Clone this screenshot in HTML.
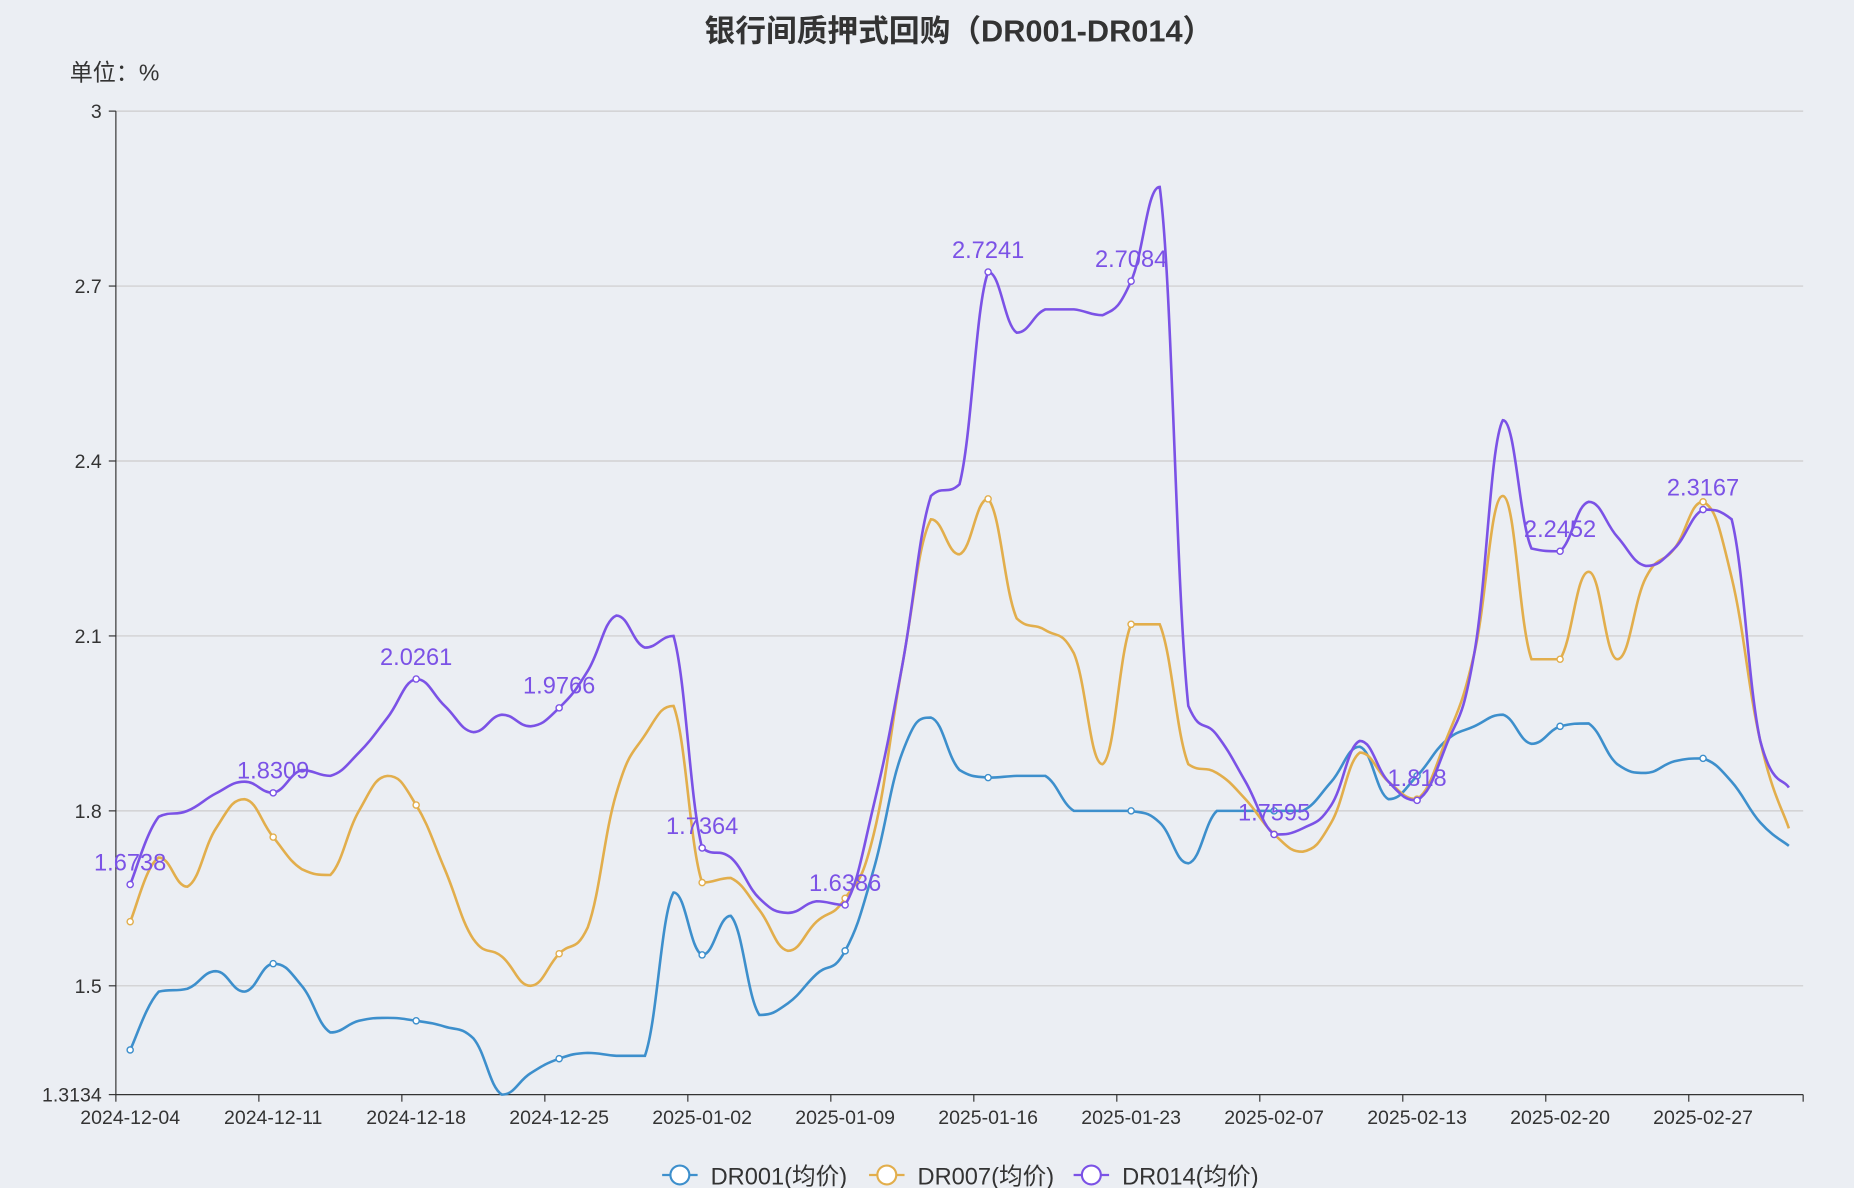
<!DOCTYPE html>
<html><head><meta charset="utf-8"><style>
html,body{margin:0;padding:0;background:#ebeef3;}
svg{display:block;font-family:"Liberation Sans","Noto Sans CJK SC",sans-serif;}
</style></head><body>
<svg id="chart" width="1854" height="1188" viewBox="0 0 1568 1005" preserveAspectRatio="none" xmlns="http://www.w3.org/2000/svg">
<rect x="0" y="0" width="1568" height="1005" fill="#ebeef3"/>
<text x="811" y="35" text-anchor="middle" font-size="26" font-weight="bold" fill="#333">银行间质押式回购（DR001-DR014）</text>
<text x="59" y="68" font-size="19.5" fill="#333">单位：%</text>
<g id="grid"></g>
<g id="axes"></g>
<g id="series"></g>
<g id="legend"></g>
</svg>
<script>
const dates=["2024-12-04","2024-12-05","2024-12-06","2024-12-09","2024-12-10","2024-12-11","2024-12-12","2024-12-13","2024-12-16","2024-12-17","2024-12-18","2024-12-19","2024-12-20","2024-12-23","2024-12-24","2024-12-25","2024-12-26","2024-12-27","2024-12-30","2024-12-31","2025-01-02","2025-01-03","2025-01-06","2025-01-07","2025-01-08","2025-01-09","2025-01-10","2025-01-13","2025-01-14","2025-01-15","2025-01-16","2025-01-17","2025-01-20","2025-01-21","2025-01-22","2025-01-23","2025-01-24","2025-01-27","2025-02-05","2025-02-06","2025-02-07","2025-02-08","2025-02-10","2025-02-11","2025-02-12","2025-02-13","2025-02-14","2025-02-17","2025-02-18","2025-02-19","2025-02-20","2025-02-21","2025-02-24","2025-02-25","2025-02-26","2025-02-27","2025-02-28","2025-03-03","2025-03-04"];
const dr001=[1.39,1.49,1.495,1.525,1.49,1.538,1.50,1.42,1.44,1.445,1.44,1.43,1.41,1.3134,1.35,1.375,1.385,1.38,1.38,1.66,1.553,1.62,1.45,1.47,1.52,1.56,1.70,1.90,1.96,1.87,1.857,1.86,1.86,1.80,1.80,1.80,1.78,1.71,1.80,1.80,1.80,1.80,1.85,1.91,1.82,1.86,1.92,1.945,1.965,1.915,1.945,1.95,1.88,1.865,1.885,1.89,1.85,1.78,1.74];
const dr007=[1.61,1.72,1.67,1.77,1.82,1.755,1.70,1.69,1.80,1.86,1.81,1.70,1.58,1.55,1.50,1.555,1.60,1.83,1.93,1.98,1.677,1.685,1.63,1.56,1.61,1.65,1.76,2.05,2.30,2.24,2.335,2.13,2.11,2.07,1.88,2.12,2.12,1.88,1.865,1.82,1.76,1.73,1.78,1.90,1.85,1.82,1.92,2.07,2.34,2.06,2.06,2.21,2.06,2.20,2.25,2.33,2.20,1.92,1.77];
const dr014=[1.6738,1.79,1.80,1.83,1.85,1.8309,1.87,1.86,1.90,1.96,2.0261,1.98,1.935,1.965,1.945,1.9766,2.04,2.135,2.08,2.10,1.7364,1.72,1.65,1.625,1.645,1.6386,1.81,2.05,2.34,2.36,2.7241,2.62,2.66,2.66,2.65,2.7084,2.87,1.98,1.93,1.85,1.7595,1.77,1.81,1.92,1.85,1.818,1.91,2.07,2.47,2.25,2.2452,2.33,2.27,2.22,2.25,2.3167,2.30,1.92,1.84];
const yTicks=[1.3134,1.5,1.8,2.1,2.4,2.7,3];
const yTickLabels=["1.3134","1.5","1.8","2.1","2.4","2.7","3"];
const NS="http://www.w3.org/2000/svg";
const X0=98,X1=1525,YT=94,YB=926,YMIN=1.3134,YMAX=3;
const step=(X1-X0)/dates.length;
function xs(i){return X0+step*(i+0.5);}
function ys(v){return YB-(v-YMIN)/(YMAX-YMIN)*(YB-YT);}
function mk(tag,attrs,parent){const e=document.createElementNS(NS,tag);for(const k in attrs)e.setAttribute(k,attrs[k]);parent.appendChild(e);return e;}
const grid=document.getElementById('grid'),axes=document.getElementById('axes'),ser=document.getElementById('series'),leg=document.getElementById('legend');
yTicks.forEach((t,i)=>{
  if(i>0){const l=mk('line',{x1:X0,x2:X1,y1:ys(t),y2:ys(t),stroke:'#ccc','stroke-width':1},grid);
  
  }
  const tk=mk('line',{x1:X0-6,x2:X0,y1:ys(t),y2:ys(t),stroke:'#333'},axes);
  
  
  const tx=mk('text',{x:X0-12,y:ys(t)+6,'text-anchor':'end','font-size':16.5,fill:'#333'},axes);
  tx.textContent=yTickLabels[i];
  
  
});
const ya=mk('line',{x1:X0,x2:X0,y1:YT,y2:YB,stroke:'#333'},axes);


const xa=mk('line',{x1:X0,x2:X1,y1:YB,y2:YB,stroke:'#333'},axes);


for(let i=0;i<dates.length;i+=5){
  const x=X0+step*i;
  const tk=mk('line',{x1:x,x2:x,y1:YB,y2:YB+6,stroke:'#333'},axes);
  
  
  const tx=mk('text',{x:xs(i),y:YB+25,'text-anchor':'middle','font-size':16.5,fill:'#333'},axes);
  tx.textContent=dates[i];
  
  
}
{const x=X1;const tk=mk('line',{x1:x,x2:x,y1:YB,y2:YB+6,stroke:'#333'},axes);

}
function clamp(v,a,b){const lo=Math.min(a,b),hi=Math.max(a,b);return Math.max(lo,Math.min(hi,v));}
function smoothPath(vals){
  const p=vals.map((v,i)=>[xs(i),ys(v)]);let d='M'+p[0][0]+','+p[0][1];
  const t=0.22;
  for(let i=0;i<p.length-1;i++){
    const p0=p[Math.max(0,i-1)],p1=p[i],p2=p[i+1],p3=p[Math.min(p.length-1,i+2)];
    const c1=[p1[0]+(p2[0]-p0[0])*t,clamp(p1[1]+(p2[1]-p0[1])*t,p1[1],p2[1])];
    const c2=[p2[0]-(p3[0]-p1[0])*t,clamp(p2[1]-(p3[1]-p1[1])*t,p1[1],p2[1])];
    d+=' C'+c1[0]+','+c1[1]+' '+c2[0]+','+c2[1]+' '+p2[0]+','+p2[1];
  }
  return d;
}
const seriesList=[[dr001,'#3d8fcc','dr001',false],[dr007,'#e2ae4c','dr007',false],[dr014,'#7b52e6','dr014',true]];
seriesList.forEach(([vals,col,nm,lab])=>{
  const g=mk('g',{},ser);
  
  
  const path=mk('path',{d:smoothPath(vals),fill:'none',stroke:col,'stroke-width':2.2},g);
  
  
  for(let i=0;i<vals.length;i+=5){
    const c=mk('circle',{cx:xs(i),cy:ys(vals[i]),r:2.6,fill:'#fff',stroke:col,'stroke-width':1.2},g);
    
    
    if(lab){const t=mk('text',{x:xs(i),y:ys(vals[i])-12,'text-anchor':'middle','font-size':20,fill:col},g);
      t.textContent=String(vals[i]);
      
      }
  }
});
const legItems=[['DR001(均价)','#3d8fcc',560],['DR007(均价)','#e2ae4c',735],['DR014(均价)','#7b52e6',908]];
legItems.forEach(([txt,col,x])=>{
  const g=mk('g',{},leg);
  
  
  mk('line',{x1:x,x2:x+30,y1:994,y2:994,stroke:col,'stroke-width':2},g);
  mk('circle',{cx:x+15,cy:994,r:8,fill:'#fff',stroke:col,'stroke-width':1.8},g);
  const t=mk('text',{x:x+41,y:1002,'font-size':20,fill:'#333'},g);
  t.textContent=txt;
});
</script>
</body></html>
